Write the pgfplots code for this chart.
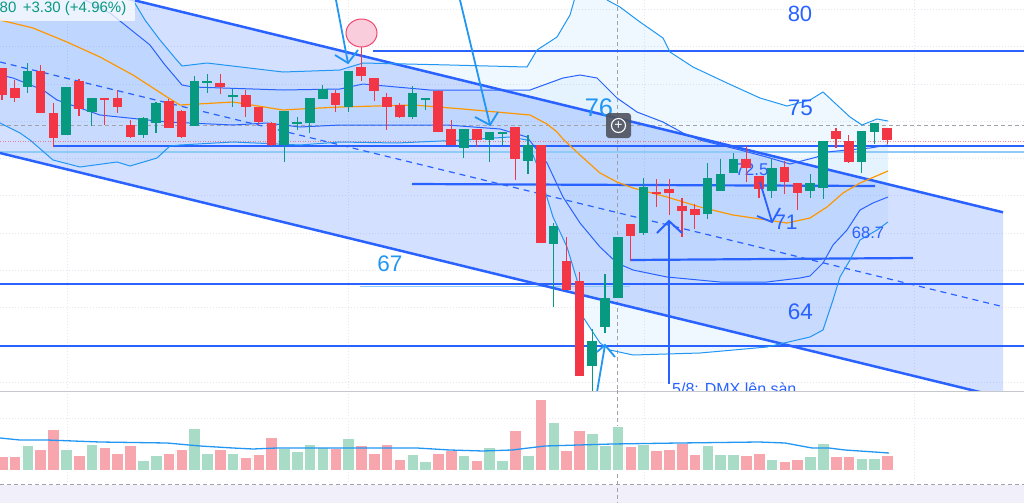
\documentclass[border=0pt]{standalone}
\usepackage{pgfplots}
\pgfplotsset{compat=1.18}
\usepackage{pgfplotstable}
\usepackage{fontspec}
\setmainfont{Liberation Sans}
\definecolor{cR}{RGB}{242,54,69}
\definecolor{cG}{RGB}{8,153,129}
\definecolor{cB}{RGB}{41,98,255}
\definecolor{cL}{RGB}{33,150,243}
\definecolor{cLL}{RGB}{144,202,249}
\definecolor{cO}{RGB}{255,152,0}
\definecolor{vR}{RGB}{246,166,172}
\definecolor{vG}{RGB}{168,220,198}
\definecolor{gridc}{RGB}{228,231,239}
\definecolor{cross}{RGB}{160,163,172}
\definecolor{btn}{RGB}{80,83,94}
\definecolor{ellF}{RGB}{250,205,220}
\definecolor{ellD}{RGB}{240,70,110}
\definecolor{lav}{RGB}{241,239,249}
\newcommand\fs[1]{\fontsize{#1bp}{#1bp}\selectfont}

% k = candle index (x pixel = 2 + 12.83 k); body top/bottom, wick top/bottom (pixel rows), v = volume bar height
\pgfplotstableread{
k bt bb wt wb v
0 68 95 68 100 14
1 88 98 80 102 14
3 71 113 65 113 21
4 113 138 103 147 41
6 81 109 79 116 15
8 98 100 98 125 23
9 98 107 90 113 17
10 125 137 120 138 25
13 101 128 99 128 17
14 111 137 110 138 21
17 83 87 74 94 21
19 95 107 90 117 13
20 107 122 107 125 16
21 123 145 122 146 33
26 93 105 90 112 22
28 67 76 47 81 25
29 78 91 78 101 17
30 97 107 93 130 26
31 105 117 103 118 11
34 91 132 90 132 17
35 129 145 120 145 20
37 129 140 129 147 10
40 127 159 127 180 40
42 145 243 145 243 71
44 261 290 237 290 20
45 281 376 272 376 40
49 224 236 224 261 24
51 192 194 179 207 20
52 189 193 179 215 21
53 206 211 198 237 27
54 209 215 204 229 16
58 159 168 146 182 15
59 176 189 176 198 17
61 167 182 161 194 9
62 183 193 183 210 11
65 131 139 128 148 14
66 141 162 135 163 14
69 128 140 128 144 15
}\redT
\pgfplotstableread{
k bt bb wt wb v
2 71 87 63 93 25
5 87 135 87 135 21
7 98 112 98 126 26
11 118 135 117 138 10
12 103 123 102 133 15
15 81 126 76 126 42
16 81 83 74 93 17
18 95 97 89 107 17
22 111 145 111 162 22
23 122 124 117 130 19
24 98 123 98 133 26
25 89 99 85 99 23
27 71 107 71 112 32
32 93 117 86 119 16
33 98 100 98 110 9
36 129 148 129 158 15
38 132 140 132 162 23
39 132 134 132 145 10
41 145 161 135 174 15
43 226 244 223 307 48
46 341 366 329 392 37
47 298 327 274 333 25
48 237 298 237 298 44
50 187 233 178 235 26
55 178 214 163 219 25
56 174 191 159 191 16
57 159 173 153 173 16
60 168 191 158 198 11
63 183 191 174 198 14
64 141 188 141 199 27
67 131 162 131 173 12
68 123 132 123 144 12
}\greenT

\begin{document}
\begin{tikzpicture}
\useasboundingbox (0,0) rectangle (1024bp,-503bp);
% ================= main price panel =================
\begin{axis}[at={(0,0)}, anchor=north west, width=1024bp, height=390bp, scale only axis,
  xmin=0, xmax=1024, ymin=0, ymax=390, y dir=reverse, hide axis, unbounded coords=jump]
% grid
\addplot[gridc, line width=0.8bp, dash pattern=on 1bp off 2bp] coordinates {
(67,0)(67,390)(0,nan)(348,0)(348,390)(0,nan)(644,0)(644,390)(0,nan)(914,0)(914,390)(0,nan)
(0,9)(1024,9)(0,nan)(0,46)(1024,46)(0,nan)(0,84)(1024,84)(0,nan)(0,121)(1024,121)(0,nan)
(0,158)(1024,158)(0,nan)(0,195)(1024,195)(0,nan)(0,233)(1024,233)(0,nan)(0,270)(1024,270)(0,nan)
(0,307)(1024,307)(0,nan)(0,345)(1024,345)(0,nan)(0,382)(1024,382)};
% outer Bollinger fill
\addplot[fill=cL, fill opacity=0.07, draw=none] coordinates {
(0,-20)(120,-20)(133,0)(145,20)(160,40)(175,58)(182,66)(207,63)(283,72)(340,70)(363,63)(450,65)(527,67)(537,50)(557,37)(570,15)(580,-20)(607,-20)(607,0)(620,7)(640,22)(663,38)(670,52)(693,67)(727,83)(760,98)(787,106)(810,100)(823,92)(850,117)(862,125)(877,119)(888,121)
(888,222)(877,230)(860,240)(850,260)(840,277)(833,300)(823,330)(810,337)(767,347)(700,353)(633,355)(610,350)(600,343)(583,317)(577,280)(567,247)(553,217)(537,165)(527,140)(510,137)(463,140)(397,143)(340,142)(300,145)(233,142)(180,145)(170,146)(157,158)(130,166)(117,162)(80,167)(53,160)(30,140)(20,133)(0,123)} -- cycle;
% inner Bollinger fill
\addplot[fill=cL, fill opacity=0.05, draw=none] coordinates {
(0,-40)(80,-8)(85,0)(110,13)(150,45)(165,65)(182,85)(193,87)(283,90)(340,89)(363,84)(430,90)(530,90)(563,78)(580,75)(597,78)(617,98)(637,112)(663,122)(683,133)(700,140)(740,152)(770,160)(793,163)(820,152)(847,150)(870,148)(888,145)
(888,197)(873,203)(860,210)(847,230)(833,245)(823,263)(810,276)(800,278)(767,282)(720,282)(667,277)(633,270)(617,263)(600,247)(580,223)(563,197)(547,163)(527,137)(500,129)(447,125)(340,125)(300,127)(267,123)(233,125)(167,122)(100,115)(57,100)(43,90)(13,78)(0,75)} -- cycle;
% channel fill
\addplot[fill=cB, fill opacity=0.2, draw=none] coordinates {(0,-32.5)(1003,212.3)(1003,397.7)(0,153)} -- cycle;
% price line and crosshair
\addplot[cR, opacity=0.55, line width=0.9bp, dash pattern=on 1bp off 1.5bp] coordinates {(0,141)(1024,141)};
\addplot[cross, line width=0.9bp, dash pattern=on 4bp off 3bp] coordinates {(0,125.5)(1024,125.5)};
\addplot[cross, line width=0.9bp, dash pattern=on 4bp off 3bp] coordinates {(617.5,0)(617.5,390)};
% horizontal levels
\addplot[cLL, line width=1.6bp] coordinates {(0,152)(1024,152)};
\addplot[cLL, line width=1.3bp] coordinates {(360,286.5)(630,286.5)};
\addplot[cB, line width=2.2bp] coordinates {(373,51)(1024,51)};
\addplot[cB, line width=2.2bp] coordinates {(53,146)(1024,146)};
\addplot[cB, line width=2.2bp] coordinates {(412,184)(875,186)};
\addplot[cB, line width=2.2bp] coordinates {(630,260)(913,258)};
\addplot[cB, line width=2.2bp] coordinates {(0,284)(1024,284)};
\addplot[cB, line width=2.2bp] coordinates {(0,346)(1024,346)};
% channel
\addplot[cB, line width=2.5bp] coordinates {(0,-32.5)(1003,212.3)};
\addplot[cB, line width=2.5bp] coordinates {(0,153)(1003,397.7)};
\addplot[cB, line width=1.2bp, dash pattern=on 6bp off 5bp] coordinates {(0,62)(1003,306.7)};
% Bollinger bands and basis
\addplot[cL, line width=1bp] coordinates {
(120,-20)(133,0)(145,20)(160,40)(175,58)(182,66)(207,63)(283,72)(340,70)(363,63)(450,65)(527,67)(537,50)(557,37)(570,15)(580,-20)(607,-20)(607,0)(620,7)(640,22)(663,38)(670,52)(693,67)(727,83)(760,98)(787,106)(810,100)(823,92)(850,117)(862,125)(877,119)(888,121)};
\addplot[cL, line width=1bp] coordinates {
(888,222)(877,230)(860,240)(850,260)(840,277)(833,300)(823,330)(810,337)(767,347)(700,353)(633,355)(610,350)(600,343)(583,317)(577,280)(567,247)(553,217)(537,165)(527,140)(510,137)(463,140)(397,143)(340,142)(300,145)(233,142)(180,145)(170,146)(157,158)(130,166)(117,162)(80,167)(53,160)(30,140)(20,133)(0,123)};
\addplot[cB, line width=1bp] coordinates {
(80,-8)(85,0)(110,13)(150,45)(165,65)(182,85)(193,87)(283,90)(340,89)(363,84)(430,90)(530,90)(563,78)(580,75)(597,78)(617,98)(637,112)(663,122)(683,133)(700,140)(740,150)(770,158)(790,164)(817,157)(827,152)(847,150)(870,148)(888,145)};
\addplot[cB, line width=1bp] coordinates {
(888,197)(873,203)(860,210)(847,230)(833,245)(823,263)(810,276)(800,278)(767,282)(720,282)(667,277)(633,270)(617,263)(600,247)(580,223)(563,197)(547,163)(527,137)(500,129)(447,125)(340,125)(300,127)(267,123)(233,125)(167,122)(100,115)(57,100)(43,90)(13,78)(0,75)};
\addplot[cO, line width=1.2bp] coordinates {
(0,20)(33,28)(67,42)(100,57)(133,75)(167,97)(180,105)(233,102)(283,110)(300,109)(340,107)(413,105)(463,109)(530,115)(547,124)(557,132)(563,139)(580,155)(600,173)(617,182)(633,188)(667,197)(700,207)(733,215)(767,220)(787,223)(810,218)(827,207)(843,193)(860,183)(888,171)};
\node[text=cB, font=\fs{17}] at (axis cs:752,169.5) {72.5};
% candles: wicks
\addplot[draw=none, mark=none, error bars/.cd, y dir=plus, y explicit, error mark=none,
  error bar style={draw=cR, line width=1.1bp}]
  table[x expr={2+12.83*\thisrow{k}}, y=wt, y error plus expr={\thisrow{wb}-\thisrow{wt}}] {\redT};
\addplot[draw=none, mark=none, error bars/.cd, y dir=plus, y explicit, error mark=none,
  error bar style={draw=cG, line width=1.1bp}]
  table[x expr={2+12.83*\thisrow{k}}, y=wt, y error plus expr={\thisrow{wb}-\thisrow{wt}}] {\greenT};
% candles: bodies
\addplot[draw=none, mark=none, error bars/.cd, y dir=plus, y explicit, error mark=none,
  error bar style={draw=cR, line width=9.6bp}]
  table[x expr={2+12.83*\thisrow{k}}, y=bt, y error plus expr={\thisrow{bb}-\thisrow{bt}}] {\redT};
\addplot[draw=none, mark=none, error bars/.cd, y dir=plus, y explicit, error mark=none,
  error bar style={draw=cG, line width=9.6bp}]
  table[x expr={2+12.83*\thisrow{k}}, y=bt, y error plus expr={\thisrow{bb}-\thisrow{bt}}] {\greenT};
% hand-drawn arrows
\addplot[cL, line width=1.8bp] coordinates {(336,0)(348,63)};
\addplot[cL, line width=1.8bp] coordinates {(335,55)(348,63)(358,50)};
\addplot[cL, line width=1.8bp] coordinates {(460,0)(490,125)};
\addplot[cL, line width=1.8bp] coordinates {(475,117)(490,125)(498,112)};
\addplot[cB, line width=1.8bp] coordinates {(760,182)(772,222)};
\addplot[cB, line width=1.8bp] coordinates {(757,216)(772,222)(780,208)};
\addplot[cL, line width=1.8bp] coordinates {(597,392)(605,345)};
\addplot[cL, line width=1.8bp] coordinates {(597,352)(605,345)(615,357)};
\addplot[cB, line width=2bp] coordinates {(669,384)(669,221)};
\addplot[cB, line width=2bp] coordinates {(657,233)(669,221)(682,233)};
\draw[fill=ellF, draw=ellD, line width=1bp] (axis cs:361.5,33) ellipse [x radius=15.5bp, y radius=14bp];
% labels
\node[text=cB, font=\fs{22}] at (axis cs:800,14) {80};
\node[text=cB, font=\fs{22.5}] at (axis cs:800.5,107.5) {75};
\node[text=cL, font=\fs{25.5}] at (axis cs:599,108) {76};
\node[text=cL, font=\fs{22.5}] at (axis cs:390,263.5) {67};
\node[text=cB, font=\fs{22.5}] at (axis cs:800.5,311.5) {64};
\node[text=cB, font=\fs{21}] at (axis cs:786,222.5) {71};
\node[text=cB, font=\fs{16.5}] at (axis cs:868,233) {68.7};
\node[text=cB, font=\fs{16}, anchor=north west, inner sep=0pt] at (axis cs:672,383) {5/8: DMX lên sàn};
% crosshair button
\node[fill=btn, fill opacity=0.9, rounded corners=3bp, minimum width=25bp, minimum height=25bp, inner sep=0pt] at (axis cs:618.5,125.5) {};
\node[circle, draw=white, line width=1.1bp, minimum size=14bp, inner sep=0pt, text=white, font=\fs{14}] at (axis cs:618.5,125.5) {+};
% legend box
\addplot[fill=white, fill opacity=0.72, draw=none] coordinates {(0,0)(135,0)(135,21)(0,21)} -- cycle;
\node[text=cG, font=\fs{15}, anchor=base west, inner sep=0pt] at (axis cs:-0.5,12) {80\hspace{6.5bp}+3.30 (+4.96\%)};
\end{axis}
% ================= volume panel =================
\begin{axis}[at={(0,-390bp)}, anchor=north west, width=1024bp, height=113bp, scale only axis,
  xmin=0, xmax=1024, ymin=-33, ymax=80, hide axis, unbounded coords=jump]
\addplot[fill=lav, draw=none] coordinates {(0,-15)(1024,-15)(1024,-34)(0,-34)} -- cycle;
\addplot[gridc, line width=0.8bp, dash pattern=on 1bp off 2bp] coordinates {
(67,79)(67,-14)(0,nan)(348,79)(348,-14)(0,nan)(644,79)(644,-14)(0,nan)(914,79)(914,-14)(0,nan)(0,52)(1024,52)};
\addplot[gridc!70!gray, line width=1bp] coordinates {(0,79)(1024,79)};
\addplot[cross, line width=1bp, dash pattern=on 4bp off 3bp] coordinates {(0,-14)(1024,-14)};
\addplot[cross, line width=0.9bp, dash pattern=on 4bp off 3bp] coordinates {(617.5,80)(617.5,-33)};
\addplot[ybar, bar width=11.6bp, bar shift=0pt, fill=vR, draw=white, line width=0.5bp]
  table[x expr={2+12.83*\thisrow{k}}, y=v] {\redT};
\addplot[ybar, bar width=11.6bp, bar shift=0pt, fill=vG, draw=white, line width=0.5bp]
  table[x expr={2+12.83*\thisrow{k}}, y=v] {\greenT};
\addplot[cL, line width=1.3bp] coordinates {
(0,32)(20,30)(47,30)(100,28)(167,27)(200,24)(233,22)(253,21)(277,22)(333,22)(417,22)(450,20)(483,19)(512,20)(545,24)(612,26)(679,27)(759,28)(785,27)(812,22)(829,22)(845,20)(889,17)};
\end{axis}
\end{tikzpicture}
\end{document}
